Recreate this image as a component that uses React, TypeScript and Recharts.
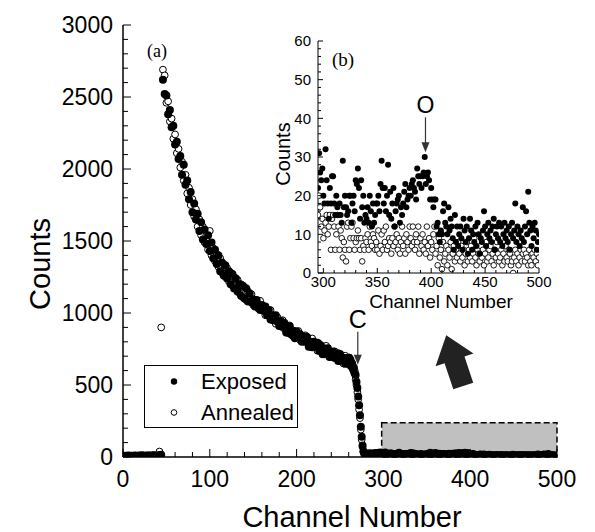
import { ScatterChart, Scatter, XAxis, YAxis, ReferenceArea, ReferenceDot } from "recharts";

const SANS = "'Liberation Sans', Arial, Helvetica, sans-serif";
const SERIF = "'Liberation Serif', 'Times New Roman', serif";

// main panel, channels 0..258, every 2nd channel
const exposedLow = [
  6, 9, 7, 10, 8, 5, 9, 11, 7, 10,
  8, 12, 9, 7, 11, 10, 8, 12, 10, 9,
  13, 11, 15,
  2620, 2520, 2510, 2380, 2410, 2290, 2300, 2170, 2190, 2070,
  2090, 1960, 2030, 1890, 1920, 1790, 1840, 1700, 1760, 1650,
  1690, 1570, 1630, 1510, 1580, 1480, 1540, 1430, 1490, 1380,
  1440, 1340, 1400, 1290, 1350, 1260, 1330, 1240, 1290, 1200,
  1270, 1170, 1240, 1150, 1200, 1120, 1190, 1100, 1170, 1080,
  1135, 1075, 1095, 1045, 1090, 1055, 1020, 1055, 1015, 1045,
  985, 1020, 955, 985, 950, 985, 940, 910, 945, 905,
  930, 865, 890, 908, 850, 877, 825, 872, 835, 852,
  800, 838, 800, 833, 766, 800, 763, 801, 765, 793,
  737, 775, 714, 753, 722, 756, 695, 719, 733, 688,
  717, 667, 716, 670, 689, 648, 687,
];
const annealedLow = [
  4, 7, 9, 6, 8, 10, 7, 9, 6, 8,
  10, 7, 9, 11, 8, 10, 7, 9, 12, 8,
  10, 38, 900,
  2690, 2650, 2460, 2470, 2330, 2350, 2210, 2240, 2110, 2140,
  2010, 2050, 1920, 1960, 1830, 1870, 1750, 1790, 1670, 1720,
  1600, 1650, 1540, 1600, 1490, 1540, 1440, 1570, 1400, 1450,
  1360, 1410, 1320, 1380, 1280, 1340, 1250, 1310, 1220, 1280,
  1190, 1250, 1170, 1230, 1140, 1200, 1110, 1180, 1090, 1150,
  1095, 1130, 1055, 1080, 1085, 1030, 1085, 1020, 1035, 985,
  1020, 985, 1020, 950, 970, 925, 970, 945, 905, 950,
  890, 905, 860, 913, 865, 837, 875, 837, 875, 812,
  835, 803, 845, 798, 816, 765, 823, 766, 785, 738,
  787, 740, 764, 713, 772, 711, 730, 694, 703, 733,
  682, 722, 666, 690, 649, 703, 652,
];

// the edge "C", channels 260..294
const exposedEdge = [
  690, 640, 675, 630, 650, 610, 620, 580, 570, 520,
  480, 420, 360, 290, 210, 140, 80, 40, 25, 18,
  22, 19, 24, 18, 21, 26, 20, 23, 19, 25,
  22, 28, 21, 24, 27,
];
const annealedEdge = [
  650, 690, 640, 660, 620, 630, 590, 600, 540, 500,
  450, 400, 330, 270, 190, 120, 70, 35, 20, 14,
  9, 12, 8, 11, 7, 10, 13, 9, 6, 11,
  8, 12, 7, 10, 9,
];

// channels 295..500, shown in both panels
const exposedTail = [
  22, 31, 26, 24, 27, 20, 18, 32, 24, 18,
  14, 22, 18, 25, 25, 18, 15, 20, 17, 15,
  18, 15, 13, 29, 17, 20, 17, 15, 16, 20,
  20, 13, 18, 20, 16, 24, 23, 27, 22, 14,
  24, 17, 20, 13, 15, 14, 17, 13, 20, 16,
  12, 18, 13, 15, 18, 18, 20, 16, 23, 29,
  22, 18, 22, 16, 20, 28, 15, 21, 14, 18,
  22, 12, 16, 18, 19, 20, 13, 17, 15, 18,
  21, 23, 17, 19, 20, 22, 20, 23, 24, 22,
  21, 19, 27, 25, 23, 25, 22, 25, 26, 30,
  23, 25, 26, 24, 19, 22, 19, 17, 19, 19,
  12, 13, 10, 8, 11, 10, 16, 18, 13, 12,
  10, 17, 11, 14, 12, 9, 6, 15, 8, 12,
  7, 10, 12, 9, 6, 14, 11, 8, 12, 5,
  9, 14, 11, 6, 10, 8, 12, 7, 13, 10,
  5, 9, 8, 11, 16, 12, 7, 10, 13, 9,
  11, 8, 12, 14, 6, 10, 12, 9, 13, 8,
  12, 7, 10, 13, 9, 11, 8, 12, 6, 10,
  13, 9, 11, 18, 8, 12, 10, 7, 11, 9,
  17, 8, 12, 16, 10, 21, 13, 11, 7, 12,
  9, 13, 11, 6, 8, 10,
];
const annealedTail = [
  15, 20, 17, 12, 14, 9, 11, 13, 15, 10,
  12, 15, 6, 14, 15, 12, 6, 10, 15, 12,
  6, 11, 9, 4, 8, 6, 3, 12, 13, 6,
  9, 12, 13, 9, 6, 8, 9, 11, 9, 6,
  9, 3, 7, 6, 9, 8, 10, 6, 12, 8,
  7, 10, 9, 6, 8, 6, 11, 5, 7, 10,
  6, 11, 8, 12, 6, 7, 9, 8, 5, 9,
  7, 12, 8, 10, 6, 9, 5, 8, 12, 7,
  9, 5, 10, 8, 6, 12, 9, 7, 12, 8,
  6, 10, 8, 12, 5, 9, 7, 10, 6, 8,
  5, 12, 7, 9, 4, 8, 6, 10, 12, 5,
  7, 2, 9, 4, 6, 1, 8, 3, 5, 7,
  2, 6, 4, 8, 1, 5, 7, 3, 6, 4,
  8, 5, 3, 7, 4, 6, 2, 5, 8, 3,
  6, 4, 7, 3, 5, 9, 4, 2, 6, 5,
  3, 7, 4, 6, 2, 5, 8, 3, 4, 6,
  7, 3, 5, 2, 6, 4, 8, 5, 3, 4,
  6, 2, 5, 3, 7, 4, 3, 6, 5, 2,
  3, 0, 4, 6, 3, 5, 2, 4, 6, 3,
  5, 6, 3, 5, 4, 2, 6, 3, 2, 5,
  4, 6, 3, 5, 2, 4,
];

const range = (a: number, b: number, s: number) => {
  const out: number[] = [];
  for (let v = a; v <= b + 1e-9; v += s) out.push(v);
  return out;
};
const mainXTicks = range(0, 500, 20);
const mainYTicks = range(0, 3000, 100);
const insetXTicks = range(300, 500, 10);
const insetYTicks = range(0, 60, 2);

const toPts = (vals: number[], start: number, step: number) => vals.map((y, i) => ({ x: start + i * step, y }));
const tailExp = toPts(exposedTail, 295, 1);
const tailAnn = toPts(annealedTail, 295, 1);
const mainExposed = [...toPts(exposedLow, 0, 2), ...toPts(exposedEdge, 260, 1), ...tailExp];
const mainAnnealed = [...toPts(annealedLow, 0, 2), ...toPts(annealedEdge, 260, 1), ...tailAnn];

type Side = "bottom" | "top" | "left" | "right";

function makeTick(side: Side, majorStep: number, majorLen: number, minorLen: number, fontSize = 0, gap = 0) {
  return (p: any) => {
    const { x, y, payload } = p;
    const v = payload.value;
    const major = Math.abs(v % majorStep) < 1e-6;
    const len = major ? majorLen : minorLen;
    let x2 = x;
    let y2 = y;
    if (side === "bottom") y2 = y - len;
    if (side === "top") y2 = y + len;
    if (side === "left") x2 = x + len;
    if (side === "right") x2 = x - len;
    let label = null;
    if (fontSize && major) {
      label =
        side === "bottom" ? (
          <text x={x} y={y + gap} textAnchor="middle" fontSize={fontSize} fontFamily={SANS} fill="#000">{v}</text>
        ) : (
          <text x={x - gap} y={y} dy="0.36em" textAnchor="end" fontSize={fontSize} fontFamily={SANS} fill="#000">{v}</text>
        );
    }
    return (
      <g>
        <line x1={x} y1={y} x2={x2} y2={y2} stroke="#000" strokeWidth={1} />
        {label}
      </g>
    );
  };
}

const dot = (r: number) => (p: any) => <circle cx={p.cx} cy={p.cy} r={r} fill="#000" />;
const ring = (r: number, w: number) => (p: any) => <circle cx={p.cx} cy={p.cy} r={r} fill="#fff" stroke="#000" strokeWidth={w} />;

const labelArrow = (text: string, size: number, len: number, gap: number) => (p: any) => {
  const { cx, cy } = p;
  return (
    <g>
      <line x1={cx} y1={cy - len} x2={cx} y2={cy - 8} stroke="#333" strokeWidth={1.2} />
      <polygon points={`${cx - 4},${cy - 10} ${cx + 4},${cy - 10} ${cx},${cy}`} fill="#333" />
      <text x={cx} y={cy - len - gap} textAnchor="middle" fontSize={size} fontFamily={SANS} fill="#000">{text}</text>
    </g>
  );
};

const BigArrow = (p: any) => (
  <polygon
    transform={`translate(${p.cx},${p.cy}) rotate(-18.5)`}
    points="-10.5,0 10.5,0 10.5,-27.5 20,-27.5 0,-53.6 -20,-27.5 -10.5,-27.5"
    fill="#222"
  />
);

const axisLine = (w: number) => ({ stroke: "#000", strokeWidth: w });

export default function App() {
  return (
    <div style={{ position: "absolute", left: 0, top: 0, width: 595, height: 532, background: "#fff", fontFamily: SANS }}>
      <ScatterChart width={595} height={532} margin={{ top: 25, right: 38, bottom: 0, left: 0 }}>
        <XAxis type="number" dataKey="x" domain={[0, 500]} allowDataOverflow ticks={mainXTicks} interval={0}
          height={75} tickSize={0} tickMargin={0} tickLine={false} axisLine={axisLine(1.5)}
          tick={makeTick("bottom", 100, 8, 5, 23, 30)} />
        <XAxis xAxisId="t" orientation="top" type="number" domain={[0, 500]} allowDataOverflow ticks={mainXTicks} interval={0}
          height={0} tickSize={0} tickMargin={0} tickLine={false} axisLine={axisLine(1.5)}
          tick={makeTick("top", 100, 8, 5)} />
        <YAxis type="number" dataKey="y" domain={[0, 3000]} allowDataOverflow ticks={mainYTicks} interval={0}
          width={123} tickSize={0} tickMargin={0} tickLine={false} axisLine={axisLine(1.5)}
          tick={makeTick("left", 500, 8, 5, 23, 10)} />
        <YAxis yAxisId="r" orientation="right" type="number" domain={[0, 3000]} allowDataOverflow ticks={mainYTicks} interval={0}
          width={0} tickSize={0} tickMargin={0} tickLine={false} axisLine={axisLine(1.5)}
          tick={makeTick("right", 500, 8, 5)} />
        <ReferenceArea x1={298} x2={500} y1={0} y2={237} fill="#c0c0c0" fillOpacity={1}
          stroke="#000" strokeWidth={1.5} strokeDasharray="6 3" />
        <Scatter name="Annealed" data={mainAnnealed} shape={ring(3.4, 1)} isAnimationActive={false} />
        <Scatter name="Exposed" data={mainExposed} shape={dot(4)} isAnimationActive={false} />
        <ReferenceDot x={270.5} y={640} shape={labelArrow("C", 25, 33, 4)} />
        <ReferenceDot x={392} y={493} shape={BigArrow} />
      </ScatterChart>

      <div style={{ position: "absolute", left: 250, top: 30 }}>
        <ScatterChart width={312} height={285} margin={{ top: 11, right: 23, bottom: 0, left: 0 }}>
          <XAxis type="number" dataKey="x" domain={[295, 500]} allowDataOverflow ticks={insetXTicks} interval={0}
            height={42} tickSize={0} tickMargin={0} tickLine={false} axisLine={axisLine(1)}
            tick={makeTick("bottom", 50, 5, 3, 15, 14)} />
          <XAxis xAxisId="t" orientation="top" type="number" domain={[295, 500]} allowDataOverflow ticks={insetXTicks} interval={0}
            height={0} tickSize={0} tickMargin={0} tickLine={false} axisLine={axisLine(1)}
            tick={makeTick("top", 50, 5, 3)} />
          <YAxis type="number" dataKey="y" domain={[0, 60]} allowDataOverflow ticks={insetYTicks} interval={0}
            width={68} tickSize={0} tickMargin={0} tickLine={false} axisLine={axisLine(1)}
            tick={makeTick("left", 10, 5, 3, 15, 7)} />
          <YAxis yAxisId="r" orientation="right" type="number" domain={[0, 60]} allowDataOverflow ticks={insetYTicks} interval={0}
            width={0} tickSize={0} tickMargin={0} tickLine={false} axisLine={axisLine(1)}
            tick={makeTick("right", 10, 5, 3)} />
          <Scatter name="Annealed" data={tailAnn} shape={ring(2.8, 0.9)} isAnimationActive={false} />
          <Scatter name="Exposed" data={tailExp} shape={dot(3)} isAnimationActive={false} />
          <ReferenceDot x={394.7} y={31.2} shape={labelArrow("O", 23, 35, 4)} />
        </ScatterChart>
      </div>

      {/* axis titles and panel tags */}
      <svg width={595} height={532} style={{ position: "absolute", left: 0, top: 0, pointerEvents: "none" }}>
        <text x={352} y={527} textAnchor="middle" fontSize={29} fontFamily={SANS}>Channel Number</text>
        <text transform="translate(50,264) rotate(-90)" textAnchor="middle" fontSize={29} fontFamily={SANS}>Counts</text>
        <text x={441} y={308} textAnchor="middle" fontSize={19} fontFamily={SANS}>Channel Number</text>
        <text transform="translate(290,154) rotate(-90)" textAnchor="middle" fontSize={20} fontFamily={SANS}>Counts</text>
        <text x={147} y={57} fontSize={18} fontFamily={SERIF}>(a)</text>
        <text x={332} y={66} fontSize={19} fontFamily={SERIF}>(b)</text>
      </svg>

      {/* legend */}
      <div style={{ position: "absolute", left: 144, top: 365, width: 152, height: 61, border: "1px solid #000", background: "#fff" }}>
        {[
          { label: "Exposed", filled: true },
          { label: "Annealed", filled: false },
        ].map((item) => (
          <div key={item.label} style={{ display: "flex", alignItems: "center", height: 31 }}>
            <svg width={56} height={31}>
              <circle cx={29} cy={15.5} r={item.filled ? 3.2 : 2.8} fill={item.filled ? "#000" : "#fff"} stroke="#000" strokeWidth={item.filled ? 0 : 1} />
            </svg>
            <span style={{ fontSize: 22, lineHeight: "31px", color: "#000" }}>{item.label}</span>
          </div>
        ))}
      </div>
    </div>
  );
}
